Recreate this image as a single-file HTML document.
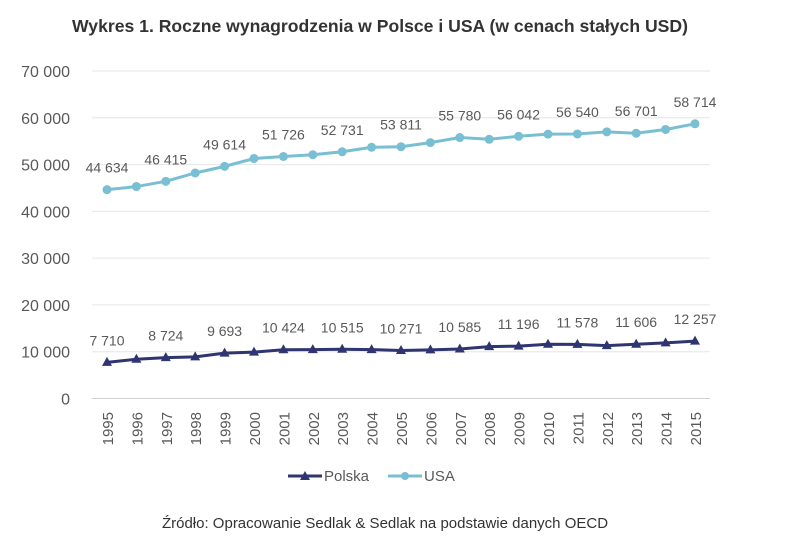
<!DOCTYPE html>
<html><head><meta charset="utf-8">
<style>
body{margin:0;background:#fff;width:805px;height:541px;overflow:hidden;font-family:"Liberation Sans",sans-serif;}
</style></head>
<body>
<svg width="805" height="541" id="c">
<text x="380" y="32" text-anchor="middle" font-size="17.6" font-weight="bold" fill="#333">Wykres 1. Roczne wynagrodzenia w Polsce i USA (w cenach stałych USD)</text>
<g id="grid"></g><g id="ylab"></g><g id="xlab"></g><g id="series"></g>
<g>
<g>
<line x1="288" y1="476" x2="322" y2="476" stroke="#2e3570" stroke-width="3"/>
<polygon points="305,471 310,480 300,480" fill="#2e3570"/>
<text x="324" y="481" font-size="15" fill="#595959">Polska</text></g>
<g>
<line x1="388" y1="476" x2="422" y2="476" stroke="#78bfd3" stroke-width="3"/>
<circle cx="405" cy="476" r="4" fill="#78bfd3"/>
<text x="424" y="481" font-size="15" fill="#595959">USA</text></g>
</g>
<text x="385" y="528" text-anchor="middle" font-size="15" fill="#333">Źródło: Opracowanie Sedlak &amp; Sedlak na podstawie danych OECD</text>
</svg>
<script>
const years=[1995,1996,1997,1998,1999,2000,2001,2002,2003,2004,2005,2006,2007,2008,2009,2010,2011,2012,2013,2014,2015];
const usa=[44634,45300,46415,48200,49614,51300,51726,52100,52731,53700,53811,54700,55780,55400,56042,56500,56540,57000,56701,57500,58714];
const polska=[7710,8400,8724,8900,9693,9900,10424,10450,10515,10450,10271,10400,10585,11100,11196,11600,11578,11300,11606,11900,12257];
const yTicks=[0,10000,20000,30000,40000,50000,60000,70000];
const NS='http://www.w3.org/2000/svg';
const x0=107,dx=29.4,yb=398.5,yt=71;
const X=i=>x0+i*dx, Y=v=>yb-(yb-yt)*v/70000;
const fmt=v=>String(v).replace(/\B(?=(\d{3})+(?!\d))/g,' ');
function mk(t,a,p){const e=document.createElementNS(NS,t);for(const k in a)e.setAttribute(k,a[k]);p.appendChild(e);return e;}
const g=document.getElementById('grid'),yl=document.getElementById('ylab'),xl=document.getElementById('xlab'),s=document.getElementById('series');
yTicks.forEach(v=>{
 const l=mk('line',{x1:92,x2:710,y1:Y(v),y2:Y(v),stroke:v===0?'#d0d0d0':'#e6e6e6','stroke-width':1},g);
 
 
 const t=mk('text',{x:70,y:Y(v)+6,'text-anchor':'end','font-size':16,fill:'#595959'},yl);t.textContent=fmt(v);
 
 
});
years.forEach((yr,i)=>{
 const t=mk('text',{transform:`translate(${X(i)+6},412) rotate(-90)`,'text-anchor':'end','font-size':15,fill:'#595959'},xl);t.textContent=yr;
 
 
});
function series(vals,color,kind,name){
 const gg=mk('g',{},s);
 
 
 mk('polyline',{points:vals.map((v,i)=>X(i)+','+Y(v)).join(' '),fill:'none',stroke:color,'stroke-width':3},gg);
 vals.forEach((v,i)=>{
  let m;
  if(kind==='c')m=mk('circle',{cx:X(i),cy:Y(v),r:4.5,fill:color},gg);
  else{const x=X(i),y=Y(v);m=mk('polygon',{points:`${x},${y-5.5} ${x+5},${y+3.5} ${x-5},${y+3.5}`,fill:color},gg);}
  
  
  if(i%2===0){const t=mk('text',{x:X(i),y:Y(v)-17,'text-anchor':'middle','font-size':14,fill:'#595959'},gg);t.textContent=fmt(v);
   
   }
 });
}
series(usa,'#78bfd3','c','usa');
series(polska,'#2e3570','t','polska');
</script>
</body></html>
